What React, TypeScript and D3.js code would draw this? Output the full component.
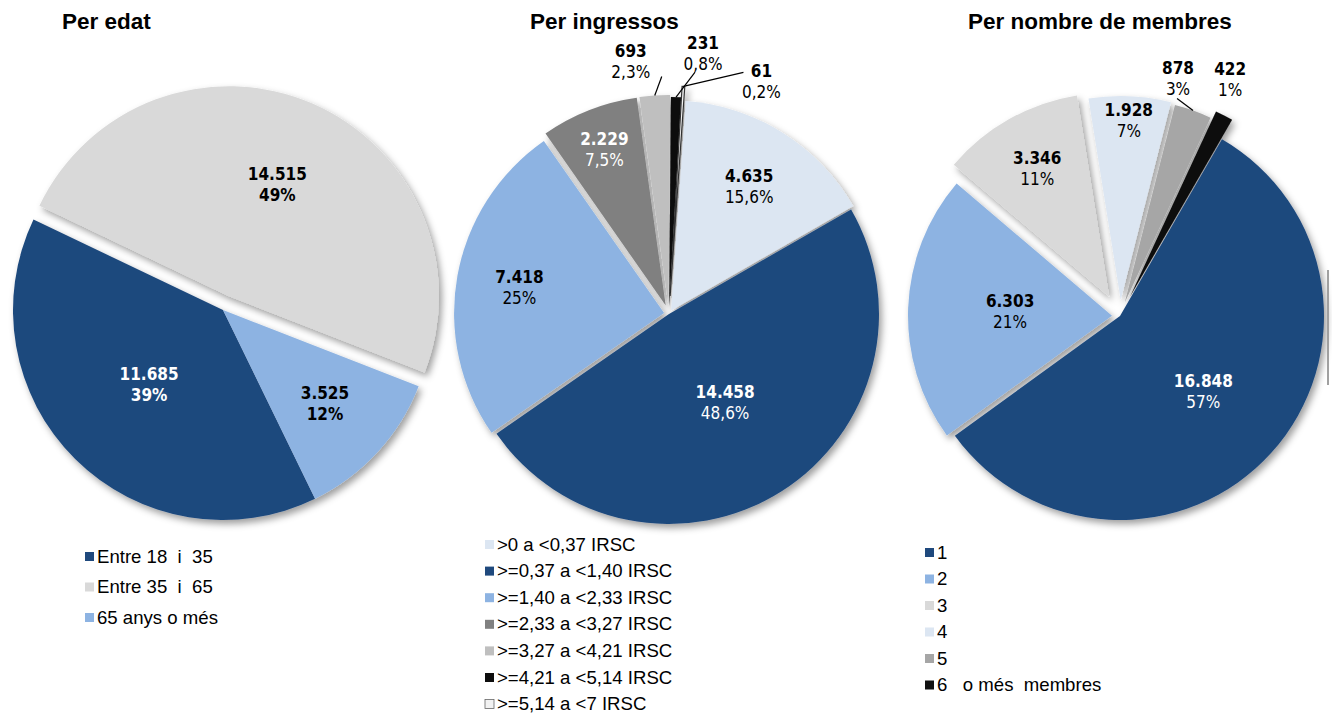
import React from "react";
import * as d3 from "d3";

// --- data ---
const ageCategories = ["Entre 18  i  35", "Entre 35  i  65", "65 anys o més"];
const ageValues = [11685, 14515, 3525];
const agePercents = ["39%", "49%", "12%"];
const ageColors = ["#1f497d", "#d9d9d9", "#8db3e2"];

const incomeCategories = [
  ">0 a <0,37 IRSC",
  ">=0,37 a <1,40 IRSC",
  ">=1,40 a <2,33 IRSC",
  ">=2,33 a <3,27 IRSC",
  ">=3,27 a <4,21 IRSC",
  ">=4,21 a <5,14 IRSC",
  ">=5,14 a <7 IRSC",
];
const incomeValues = [4635, 14458, 7418, 2229, 693, 231, 61];
const incomePercents = ["15,6%", "48,6%", "25%", "7,5%", "2,3%", "0,8%", "0,2%"];
const incomeColors = ["#dce6f2", "#1f497d", "#8db3e2", "#808080", "#bfbfbf", "#0d0d0d", "#f2f2f2"];

const memberCategories = ["1", "2", "3", "4", "5", "6   o més  membres"];
const memberValues = [16848, 6303, 3346, 1928, 878, 422];
const memberPercents = ["57%", "21%", "11%", "7%", "3%", "1%"];
const memberColors = ["#1f497d", "#8db3e2", "#d9d9d9", "#dce6f2", "#a6a6a6", "#111111"];

const fmt = d3
  .formatLocale({ decimal: ",", thousands: ".", grouping: [3], currency: ["", ""] })
  .format(",d");

const LABEL_FONT = "'DejaVu Sans Condensed', 'DejaVu Sans', Verdana, sans-serif";
const LEGEND_FONT = "'Liberation Sans', Arial, sans-serif";

type Outside = { dx: number; dy: number; leader?: [number, number] };

type PieSpec = {
  id: string;
  title: string;
  titleX: number;
  categories: string[];
  values: number[];
  percents: string[];
  colors: string[];
  cx: number;
  cy: number;
  r: number;
  startDeg: number;
  explode: number[];
  labelR: (number | null)[];
  outside: Record<number, Outside>;
  textColors: string[];
  boldPercent: boolean;
  legendX: number;
  legendY: number;
  legendStep: number;
};

const specs: PieSpec[] = [
  {
    id: "age",
    title: "Per edat",
    titleX: 62,
    categories: ageCategories,
    values: ageValues,
    percents: agePercents,
    colors: ageColors,
    cx: 223,
    cy: 310,
    r: 210,
    startDeg: 154,
    explode: [0, 15, 0],
    labelR: [0.5, 0.58, 0.66],
    outside: {},
    textColors: ["#fff", "#000", "#000"],
    boldPercent: true,
    legendX: 85,
    legendY: 556,
    legendStep: 30.5,
  },
  {
    id: "income",
    title: "Per ingressos",
    titleX: 530,
    categories: incomeCategories,
    values: incomeValues,
    percents: incomePercents,
    colors: incomeColors,
    cx: 669,
    cy: 314,
    r: 210,
    startDeg: 4,
    explode: [4, 0, 5, 9, 9, 7, 18],
    labelR: [0.7, 0.5, 0.7, 0.8, null, null, null],
    outside: {
      4: { dx: -24, dy: -34, leader: [31, 15] },
      5: { dx: 27, dy: -44, leader: [-8, 19] },
      6: { dx: 78, dy: -5, leader: [-18, -9] },
    },
    textColors: ["#000", "#fff", "#000", "#fff", "#000", "#000", "#000"],
    boldPercent: false,
    legendX: 485,
    legendY: 544,
    legendStep: 26.6,
  },
  {
    id: "members",
    title: "Per nombre de membres",
    titleX: 968,
    categories: memberCategories,
    values: memberValues,
    percents: memberPercents,
    colors: memberColors,
    cx: 1120,
    cy: 316,
    r: 204,
    startDeg: 30,
    explode: [0, 8, 22, 16, 14, 22],
    labelR: [0.55, 0.5, 0.72, 0.88, null, null],
    outside: {
      4: { dx: -15, dy: -32, leader: [-1, 20] },
      5: { dx: 6, dy: -36 },
    },
    textColors: ["#fff", "#000", "#000", "#000", "#000", "#000"],
    boldPercent: false,
    legendX: 925,
    legendY: 552,
    legendStep: 26.5,
  },
];

const polar = (a: number, d: number): [number, number] => [Math.sin(a) * d, -Math.cos(a) * d];

function PieChart({ spec }: { spec: PieSpec }) {
  const start = (spec.startDeg * Math.PI) / 180;
  const pie = d3
    .pie<number>()
    .sort(null)
    .value((d) => d)
    .startAngle(start)
    .endAngle(start + 2 * Math.PI);
  const arcs = pie(spec.values);
  const arc = d3.arc<d3.PieArcDatum<number>>().innerRadius(0).outerRadius(spec.r);

  return (
    <g>
      <text
        x={spec.titleX}
        y={29}
        fontFamily={LEGEND_FONT}
        fontWeight="bold"
        fontSize={22.5}
        fill="#000"
      >
        {spec.title}
      </text>

      <g transform={`translate(${spec.cx},${spec.cy})`} filter="url(#shadow)">
        {arcs.map((a, i) => {
          const mid = (a.startAngle + a.endAngle) / 2;
          const [ox, oy] = polar(mid, spec.explode[i]);
          const isWhite = spec.colors[i] === "#f2f2f2";
          return (
            <path
              key={i}
              transform={`translate(${ox},${oy})`}
              d={arc(a) || ""}
              fill={spec.colors[i]}
              stroke={isWhite ? "#333" : "none"}
              strokeWidth={isWhite ? 1.2 : 0}
            />
          );
        })}
      </g>

      <g transform={`translate(${spec.cx},${spec.cy})`}>
        {arcs.map((a, i) => {
          const mid = (a.startAngle + a.endAngle) / 2;
          const lr = spec.labelR[i];
          let x: number;
          let y: number;
          let leader: React.ReactNode = null;
          if (lr !== null) {
            [x, y] = polar(mid, spec.explode[i] + lr * spec.r);
          } else {
            const [ax, ay] = polar(mid, spec.r + spec.explode[i]);
            const o = spec.outside[i];
            x = ax + o.dx;
            y = ay + o.dy;
            if (o.leader) {
              leader = (
                <line
                  x1={ax}
                  y1={ay}
                  x2={x + o.leader[0]}
                  y2={y + o.leader[1]}
                  stroke="#000"
                  strokeWidth={1.2}
                />
              );
            }
          }
          const color = spec.textColors[i];
          return (
            <g key={i}>
              {leader}
              <text
                x={x}
                y={y - 10.5}
                textAnchor="middle"
                dominantBaseline="central"
                fontFamily={LABEL_FONT}
                fontSize={17}
                fontWeight="bold"
                fill={color}
              >
                {fmt(spec.values[i])}
              </text>
              <text
                x={x}
                y={y + 10.5}
                textAnchor="middle"
                dominantBaseline="central"
                fontFamily={LABEL_FONT}
                fontSize={17}
                fontWeight={spec.boldPercent ? "bold" : "normal"}
                fill={color}
              >
                {spec.percents[i]}
              </text>
            </g>
          );
        })}
      </g>

      <g>
        {spec.categories.map((c, i) => {
          const y = spec.legendY + i * spec.legendStep;
          const isWhite = spec.colors[i] === "#f2f2f2";
          return (
            <g key={c}>
              <rect
                x={spec.legendX}
                y={y - 4}
                width={9}
                height={9}
                fill={spec.colors[i]}
                stroke={isWhite ? "#666" : "none"}
                strokeWidth={isWhite ? 0.8 : 0}
              />
              <text
                x={spec.legendX + 12}
                y={y}
                dominantBaseline="central"
                fontFamily={LEGEND_FONT}
                fontSize={18.6}
                fill="#000"
                style={{ whiteSpace: "pre" }}
              >
                {c}
              </text>
            </g>
          );
        })}
      </g>
    </g>
  );
}

export default function App() {
  const width = 1332;
  const height = 716;
  return (
    <svg
      width={width}
      height={height}
      style={{ position: "absolute", left: 0, top: 0, background: "#fff" }}
    >
      <defs>
        <filter id="shadow" x="-20%" y="-20%" width="140%" height="140%">
          <feDropShadow dx={3} dy={4} stdDeviation={3.5} floodColor="#000" floodOpacity={0.38} />
        </filter>
      </defs>
      <rect width={width} height={height} fill="#fff" />
      {specs.map((s) => (
        <PieChart key={s.id} spec={s} />
      ))}
      <line x1={1328} y1={270} x2={1328} y2={385} stroke="#a0a0a0" strokeWidth={2} />
    </svg>
  );
}
